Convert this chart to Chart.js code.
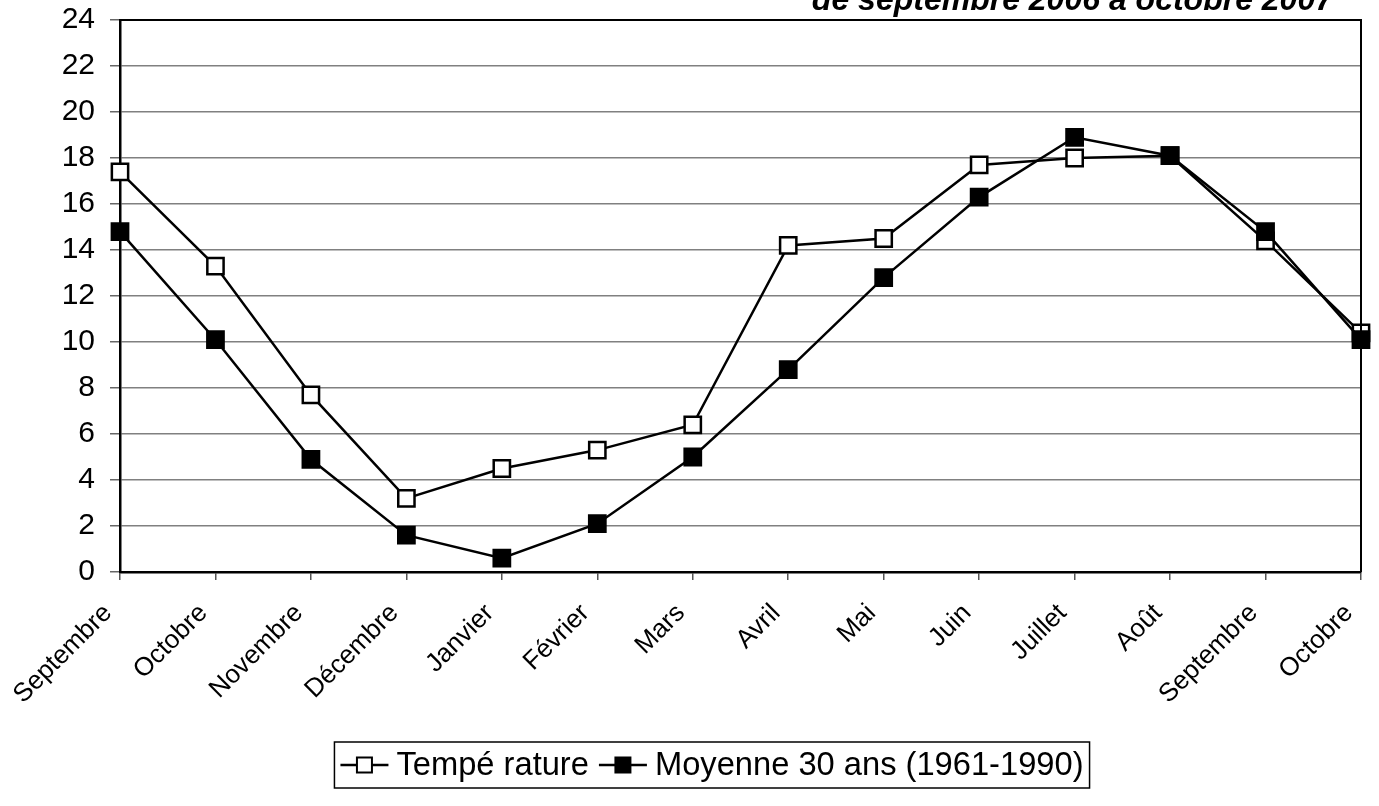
<!DOCTYPE html>
<html>
<head>
<meta charset="utf-8">
<script src="https://cdn.jsdelivr.net/npm/chart.js@4.4.0/dist/chart.umd.min.js"></script>
<style>
  html, body { margin: 0; padding: 0; background: #fff; }
  #wrap { width: 1379px; height: 806px; }
</style>
</head>
<body>
<div id="wrap"><canvas id="chart" width="1379" height="806"></canvas></div>
<script>
// Données
const mois = ['Septembre', 'Octobre', 'Novembre', 'Décembre', 'Janvier', 'Février', 'Mars',
              'Avril', 'Mai', 'Juin', 'Juillet', 'Août', 'Septembre', 'Octobre'];
const temperature = [17.4, 13.3, 7.7, 3.2, 4.5, 5.3, 6.4, 14.2, 14.5, 17.7, 18.0, 18.1, 14.4, 10.4];
const moyenne30 = [14.8, 10.1, 4.9, 1.6, 0.6, 2.1, 5.0, 8.8, 12.8, 16.3, 18.9, 18.1, 14.8, 10.1];
const titre = 'de septembre 2006 à octobre 2007';
const nomsSeries = ['Tempé rature', 'Moyenne 30 ans (1961-1990)'];

const police = '"Liberation Sans", Arial, sans-serif';

// cadre haut/droite + titre coupé + légende encadrée
const decorPlugin = {
    id: 'decor',
    afterDraw(chart) {
        const ctx = chart.ctx;
        const a = chart.chartArea;
        ctx.save();
        ctx.strokeStyle = '#000';
        ctx.lineWidth = 2;
        ctx.beginPath();
        ctx.moveTo(a.left, a.top);
        ctx.lineTo(a.right, a.top);
        ctx.lineTo(a.right, a.bottom);
        ctx.stroke();

        // titre (en partie hors du cadre, comme dans l'original)
        ctx.fillStyle = '#000';
        ctx.font = 'italic bold 32px ' + police;
        ctx.textAlign = 'right';
        ctx.textBaseline = 'alphabetic';
        ctx.fillText(titre, a.right - 28, 10);

        // légende
        ctx.font = '33px ' + police;
        const sx = 0.99;
        const marker = 48, gapAfterMarker = 8, gapItem = 10;
        const items = chart.data.datasets.map(ds => ({
            ds: ds,
            w: ctx.measureText(ds.label).width * sx
        }));
        let total = 6;
        items.forEach((it, i) => { total += marker + gapAfterMarker + it.w + (i < items.length - 1 ? gapItem : 0); });
        total += 6;
        const boxH = 46;
        const cx = 712;
        const cy = a.bottom + 193;
        let x = cx - total / 2;
        ctx.lineWidth = 1.5;
        ctx.strokeRect(x, cy - boxH / 2, total, boxH);
        x += 6;
        items.forEach(it => {
            ctx.lineWidth = 2.5;
            ctx.strokeStyle = '#000';
            ctx.beginPath();
            ctx.moveTo(x, cy);
            ctx.lineTo(x + marker, cy);
            ctx.stroke();
            const s = 15;
            ctx.fillStyle = it.ds.pointBackgroundColor;
            ctx.fillRect(x + marker / 2 - s / 2, cy - s / 2, s, s);
            ctx.lineWidth = 2;
            ctx.strokeRect(x + marker / 2 - s / 2, cy - s / 2, s, s);
            x += marker + gapAfterMarker;
            ctx.fillStyle = '#000';
            ctx.textAlign = 'left';
            ctx.textBaseline = 'middle';
            ctx.save();
            ctx.translate(x, cy + 1);
            ctx.scale(sx, 1);
            ctx.fillText(it.ds.label, 0, 0);
            ctx.restore();
            x += it.w + gapItem;
        });
        ctx.restore();
    }
};

const ctx = document.getElementById('chart').getContext('2d');
new Chart(ctx, {
    type: 'line',
    data: {
        labels: mois,
        datasets: [
            {
                label: nomsSeries[0],
                data: temperature,
                borderColor: '#000',
                borderWidth: 2.5,
                pointStyle: 'rect',
                pointRadius: 11.5,
                pointBackgroundColor: '#fff',
                pointBorderColor: '#000',
                pointBorderWidth: 2.5,
                tension: 0,
                clip: false,
                order: 1
            },
            {
                label: nomsSeries[1],
                data: moyenne30,
                borderColor: '#000',
                borderWidth: 2.5,
                pointStyle: 'rect',
                pointRadius: 11.5,
                pointBackgroundColor: '#000',
                pointBorderColor: '#000',
                pointBorderWidth: 2.5,
                tension: 0,
                clip: false,
                order: 0
            }
        ]
    },
    options: {
        responsive: false,
        animation: false,
        events: [],
        layout: { padding: { top: 20, right: 18, bottom: 100, left: 0 } },
        plugins: {
            legend: { display: false },
            title: { display: false },
            tooltip: { enabled: false }
        },
        scales: {
            x: {
                offset: false,
                afterFit(scale) {
                    scale.height = 134;
                    scale.paddingLeft = 0;
                    scale.paddingRight = 0;
                },
                grid: {
                    drawOnChartArea: false,
                    drawTicks: true,
                    tickLength: 8,
                    color: '#555',
                    lineWidth: 1.5
                },
                border: { color: '#000', width: 2.5 },
                ticks: {
                    autoSkip: false,
                    minRotation: 45,
                    maxRotation: 45,
                    padding: 18,
                    labelOffset: -12,
                    color: '#000',
                    font: { family: police, size: 26 }
                }
            },
            y: {
                min: 0,
                max: 24,
                afterFit(scale) {
                    scale.width = 120;
                    scale.paddingTop = 0;
                    scale.paddingBottom = 0;
                },
                grid: {
                    color: '#808080',
                    lineWidth: 1.5,
                    tickLength: 10,
                    tickColor: '#666'
                },
                border: { color: '#000', width: 2.5 },
                ticks: {
                    stepSize: 2,
                    padding: 15,
                    color: '#000',
                    font: { family: police, size: 30 }
                }
            }
        }
    },
    plugins: [decorPlugin]
});
</script>
</body>
</html>
